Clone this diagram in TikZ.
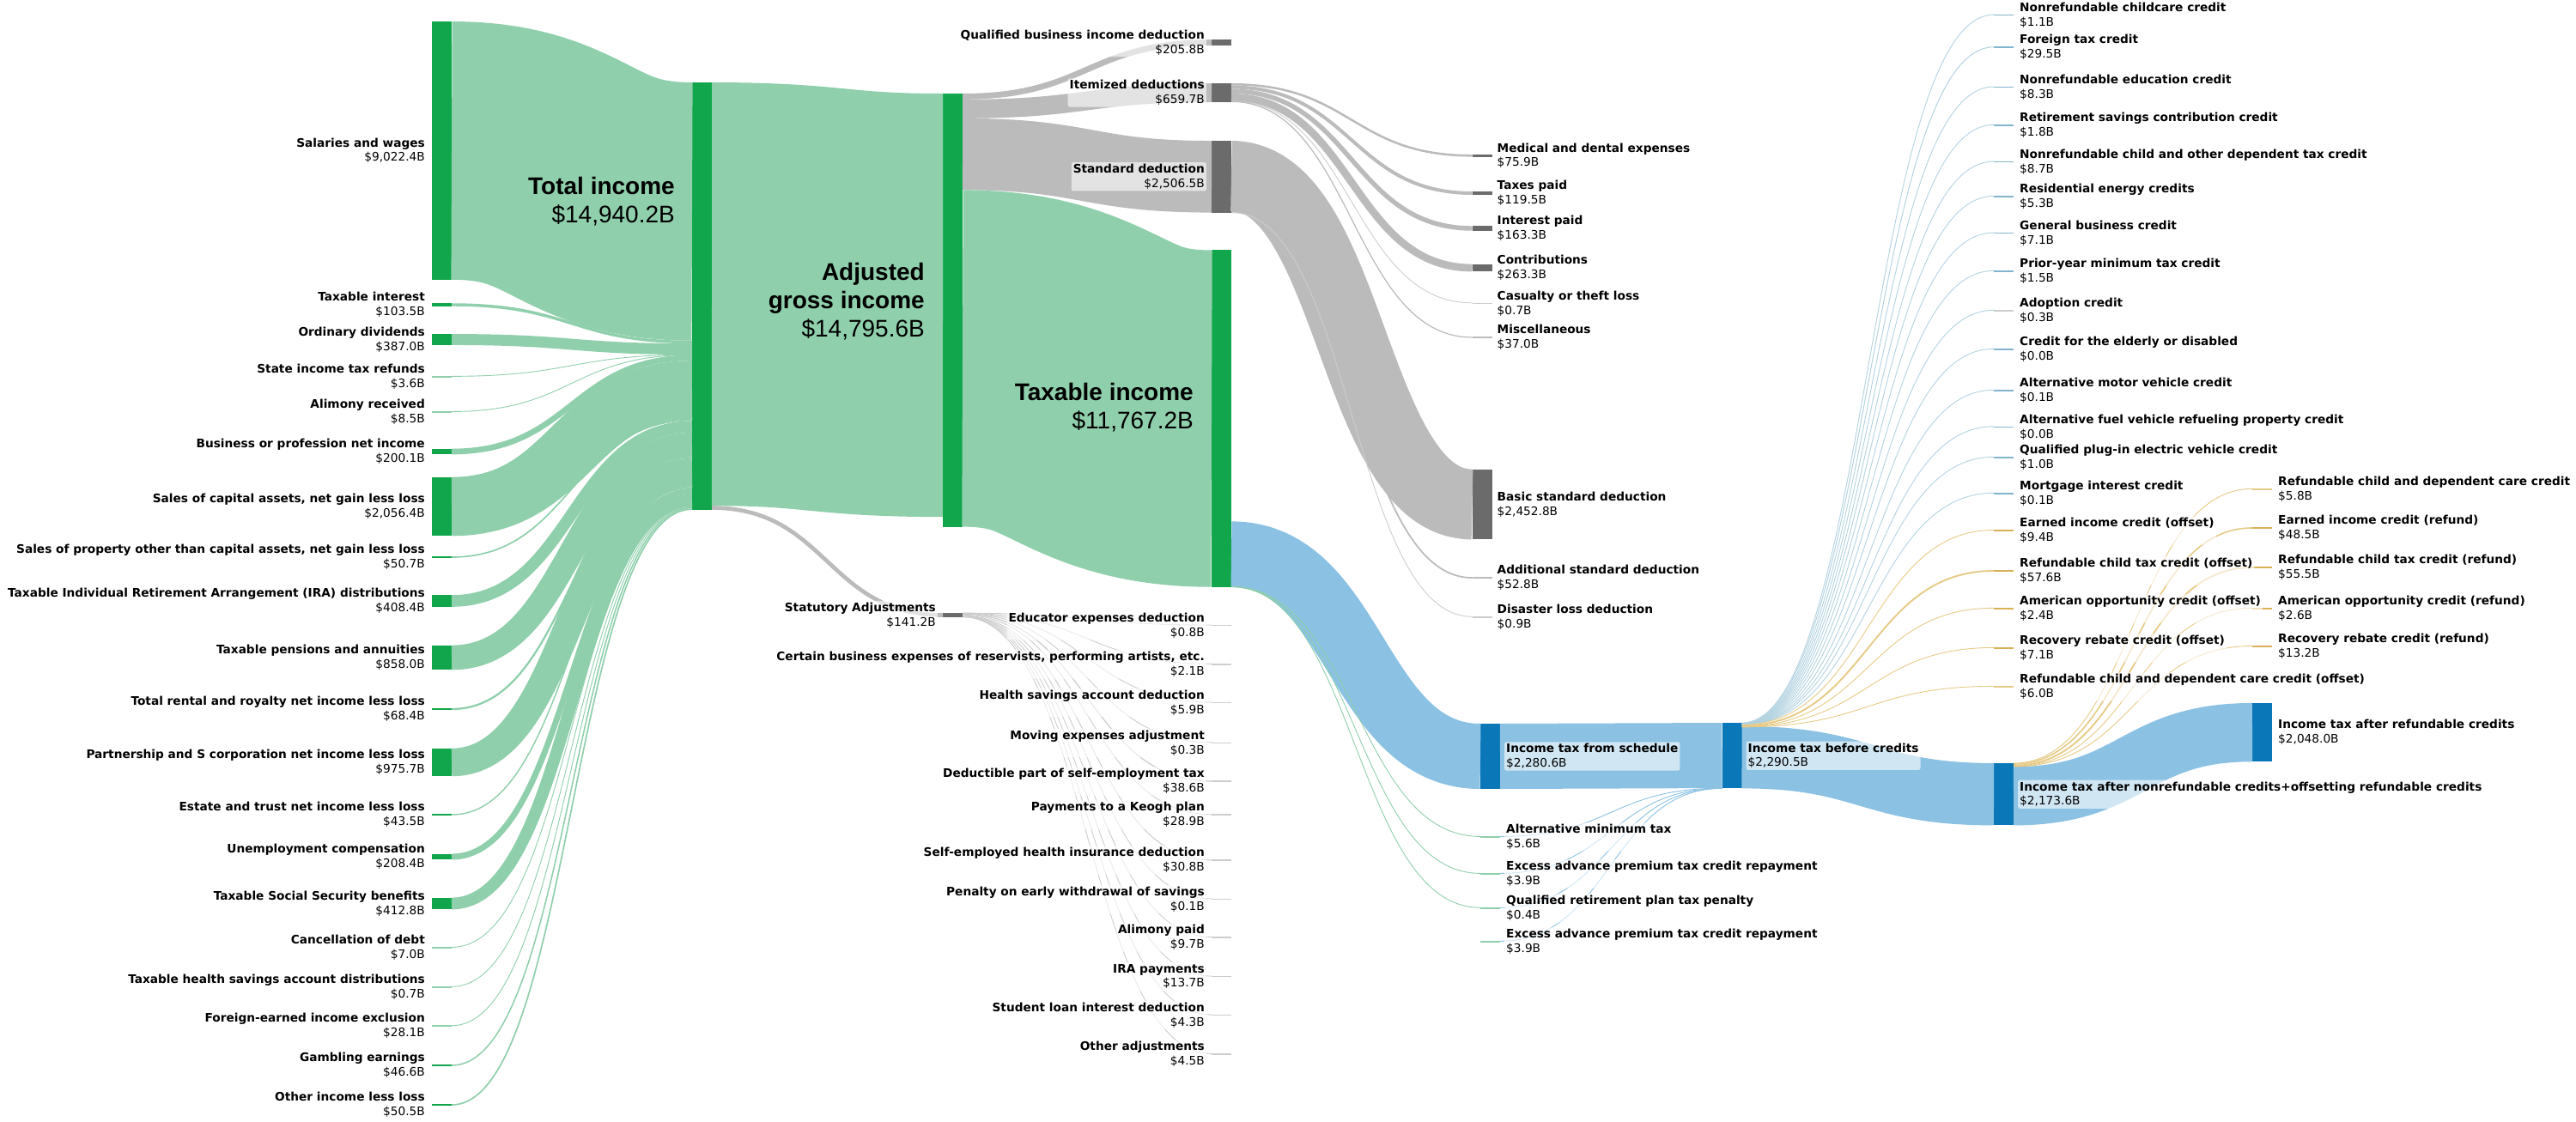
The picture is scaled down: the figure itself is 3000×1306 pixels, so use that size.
\documentclass[tikz,border=0pt]{standalone}
\usepackage{fontspec}
\usetikzlibrary{calc,positioning}
\newfontfamily\labfont{DejaVu Sans}
\newfontfamily\bigfont{Liberation Sans}
\definecolor{incbar}{RGB}{17,166,76}
\definecolor{incflow}{RGB}{143,207,172}
\definecolor{dedbar}{RGB}{107,107,107}
\definecolor{dedflow}{RGB}{187,187,187}
\definecolor{adjflow}{RGB}{205,205,205}
\definecolor{taxbar}{RGB}{10,119,184}
\definecolor{taxflow}{RGB}{139,193,226}
\definecolor{nrbar}{RGB}{130,180,205}
\definecolor{nrflow}{RGB}{178,210,224}
\definecolor{rfbar}{RGB}{216,176,88}
\definecolor{rfflow}{RGB}{230,202,135}

\newcommand\sflow[6][]{%
  \draw[#1,line width={max(#6/30,0.9)*1pt}]
    let \p1=([yshift={-(#3+#6/2)/30*1pt}]#2.north east),
        \p2=([yshift={-(#5+#6/2)/30*1pt}]#4.north west),
        \n1={(\x1+\x2)/2} in
    (\p1) .. controls (\n1,\y1) and (\n1,\y2) .. (\p2);}

\begin{document}
\begin{tikzpicture}[x=1pt,y=-1pt,
    val/.style={minimum height={max(#1/30,1.4)*1pt}},
    gflow/.style={draw=incflow},
    dflow/.style={draw=dedflow},
    aflow/.style={draw=adjflow},
    tflow/.style={draw=taxflow},
    nflow/.style={draw=nrflow},
    oflow/.style={draw=rfflow},
    lbl/.style={font={\labfont\fontsize{13.7}{16.8}\selectfont},inner sep=2pt,
      fill=white,fill opacity=0.6,text opacity=1,rounded corners=2pt},
    lbll/.style={lbl,align=right},
    lblr/.style={lbl,align=left},
    big/.style={font={\bigfont\fontsize{28}{33}\selectfont},align=right,inner sep=0pt,anchor=east}]

  \useasboundingbox (0,0) rectangle (3000,1306);

  \begin{scope}[every node/.style={rectangle,inner sep=0pt,outer sep=0pt,minimum width=23pt,fill=incbar}]
    \node[val=9022.4] (sal)   at (514.5,175.4) {};
    \node[val=103.5]  (int)   at (514.5,355)   {};
    \node[val=387.0]  (div)   at (514.5,395.5) {};
    \node[val=3.6,fill=incflow] (stref) at (514.5,439) {};
    \node[val=8.5,fill=incflow] (alim)  at (514.5,480) {};
    \node[val=200.1]  (bus)   at (514.5,526)   {};
    \node[val=2056.4] (cap)   at (514.5,590)   {};
    \node[val=50.7]   (prop)  at (514.5,649)   {};
    \node[val=408.4]  (ira)   at (514.5,700)   {};
    \node[val=858.0]  (pens)  at (514.5,766)   {};
    \node[val=68.4]   (rent)  at (514.5,826)   {};
    \node[val=975.7]  (part)  at (514.5,888)   {};
    \node[val=43.5]   (est)   at (514.5,949)   {};
    \node[val=208.4]  (unemp) at (514.5,998)   {};
    \node[val=412.8]  (ss)    at (514.5,1052.5){};
    \node[val=7.0,fill=incflow]  (debt)  at (514.5,1104) {};
    \node[val=0.7,fill=incflow]  (hsa)   at (514.5,1150) {};
    \node[val=28.1,fill=incflow] (fexcl) at (514.5,1195) {};
    \node[val=46.6]   (gamb)  at (514.5,1241)  {};
    \node[val=50.5]   (oth)   at (514.5,1287)  {};
    \node[val=14940.2] (toti) at (817.5,345)   {};
    \node[val=15139.2] (agi)  at (1109.5,361.3) {};
    \node[val=11767.2] (taxinc) at (1422.5,487.6) {};
    \node[val=5.6,fill=incflow] (amt)  at (1735.5,975)  {};
    \node[val=3.9,fill=incflow] (exc1) at (1735.5,1018) {};
    \node[val=0.4,fill=incflow] (qrp)  at (1735.5,1058) {};
    \node[val=3.9,fill=incflow] (exc2) at (1735.5,1097) {};
  \end{scope}

  \begin{scope}[every node/.style={rectangle,inner sep=0pt,outer sep=0pt,minimum width=23pt,fill=dedbar}]
    \node[val=141.2]  (stat)  at (1109.5,716.5) {};
    \node[val=205.8]  (qbi)   at (1422.5,49.5)  {};
    \node[val=659.7]  (item)  at (1422.5,108)   {};
    \node[val=2506.5] (std)   at (1422.5,205.8) {};
    \node[val=75.9]   (med)   at (1726,181.3)   {};
    \node[val=119.5]  (taxp)  at (1726,225)     {};
    \node[val=163.3]  (intp)  at (1726,266)     {};
    \node[val=263.3]  (contr) at (1726,312)     {};
    \node[val=0.7,fill=adjflow]  (cas)  at (1726,353.5) {};
    \node[val=37.0,fill=dedflow] (misc) at (1726,393)   {};
    \node[val=2452.8] (basic) at (1726,587.5)   {};
    \node[val=52.8,fill=dedflow] (addl)  at (1726,673) {};
    \node[val=0.9,fill=adjflow]  (disas) at (1726,719) {};
  \end{scope}

  \begin{scope}[every node/.style={rectangle,inner sep=0pt,outer sep=0pt,minimum width=23pt,fill=adjflow}]
    \node[val=0.8]  (educ)  at (1422.5,728.7)  {};
    \node[val=2.1]  (resv)  at (1422.5,774)    {};
    \node[val=5.9]  (hsad)  at (1422.5,818.6)  {};
    \node[val=0.3]  (move)  at (1422.5,865.5)  {};
    \node[val=38.6] (setax) at (1422.5,910)    {};
    \node[val=28.9] (keogh) at (1422.5,949)    {};
    \node[val=30.8] (sehi)  at (1422.5,1002)   {};
    \node[val=0.1]  (pen)   at (1422.5,1047.5) {};
    \node[val=9.7]  (alimp) at (1422.5,1092)   {};
    \node[val=13.7] (irap)  at (1422.5,1137.5) {};
    \node[val=4.3]  (stud)  at (1422.5,1182.6) {};
    \node[val=4.5]  (otha)  at (1422.5,1228)   {};
  \end{scope}

  \begin{scope}[every node/.style={rectangle,inner sep=0pt,outer sep=0pt,minimum width=23pt,fill=taxbar}]
    \node[val=2280.6] (sched) at (1735.5,881)   {};
    \node[val=2290.5] (befc)  at (2017,880.2)   {};
    \node[val=2173.6] (aftn)  at (2333.5,925.2) {};
    \node[val=2048.0] (aftr)  at (2634.5,853.1) {};
  \end{scope}

  \begin{scope}[every node/.style={rectangle,inner sep=0pt,outer sep=0pt,minimum width=23pt,fill=nrbar}]
    \node[val=1.1] (n1)  at (2333.5,17.8)  {};
    \node[val=29.5] (n2) at (2333.5,55)    {};
    \node[val=8.3] (n3)  at (2333.5,101.6) {};
    \node[val=1.8] (n4)  at (2333.5,146)   {};
    \node[val=8.7] (n5)  at (2333.5,188.6) {};
    \node[val=5.3] (n6)  at (2333.5,229)   {};
    \node[val=7.1] (n7)  at (2333.5,271.6) {};
    \node[val=1.5] (n8)  at (2333.5,316)   {};
    \node[val=0.3,fill=adjflow] (n9) at (2333.5,362) {};
    \node[val=0.0] (n10) at (2333.5,407)   {};
    \node[val=0.1] (n11) at (2333.5,455)   {};
    \node[val=0.0] (n12) at (2333.5,497.5) {};
    \node[val=1.0] (n13) at (2333.5,533)   {};
    \node[val=0.1] (n14) at (2333.5,575)   {};
  \end{scope}

  \begin{scope}[every node/.style={rectangle,inner sep=0pt,outer sep=0pt,minimum width=23pt,fill=rfbar}]
    \node[val=9.4]  (o1) at (2333.5,618) {};
    \node[val=57.6] (o2) at (2333.5,665) {};
    \node[val=2.4]  (o3) at (2333.5,709) {};
    \node[val=7.1]  (o4) at (2333.5,755) {};
    \node[val=6.0,fill=rfflow] (o5) at (2333.5,800) {};
    \node[val=5.8,fill=rfflow] (r1) at (2634.5,570) {};
    \node[val=48.5] (r2) at (2634.5,615) {};
    \node[val=55.5] (r3) at (2634.5,661) {};
    \node[val=2.6]  (r4) at (2634.5,709) {};
    \node[val=13.2] (r5) at (2634.5,753) {};
  \end{scope}

  \sflow[gflow]{sal}{0}{toti}{0}{9022.4}
  \sflow[gflow]{int}{0}{toti}{9022.4}{103.5}
  \sflow[gflow]{div}{0}{toti}{9125.9}{387.0}
  \sflow[gflow]{stref}{0}{toti}{9512.9}{3.6}
  \sflow[gflow]{alim}{0}{toti}{9516.5}{8.5}
  \sflow[gflow]{bus}{0}{toti}{9525.0}{200.1}
  \sflow[gflow]{cap}{0}{toti}{9725.1}{2056.4}
  \sflow[gflow]{prop}{0}{toti}{11781.5}{50.7}
  \sflow[gflow]{ira}{0}{toti}{11832.2}{408.4}
  \sflow[gflow]{pens}{0}{toti}{12240.6}{858.0}
  \sflow[gflow]{rent}{0}{toti}{13098.6}{68.4}
  \sflow[gflow]{part}{0}{toti}{13167.0}{975.7}
  \sflow[gflow]{est}{0}{toti}{14142.7}{43.5}
  \sflow[gflow]{unemp}{0}{toti}{14186.2}{208.4}
  \sflow[gflow]{ss}{0}{toti}{14394.6}{412.8}
  \sflow[gflow]{debt}{0}{toti}{14807.4}{7.0}
  \sflow[gflow]{hsa}{0}{toti}{14814.4}{0.7}
  \sflow[gflow]{fexcl}{0}{toti}{14815.1}{28.1}
  \sflow[gflow]{gamb}{0}{toti}{14843.2}{46.6}
  \sflow[gflow]{oth}{0}{toti}{14889.8}{50.5}

  \sflow[gflow]{toti}{0}{agi}{0}{14795.6}
  \sflow[dflow]{toti}{14795.6}{stat}{0}{141.2}

  \sflow[dflow]{agi}{0}{qbi}{0}{205.8}
  \sflow[dflow]{agi}{205.8}{item}{0}{659.7}
  \sflow[dflow]{agi}{865.5}{std}{0}{2506.5}
  \sflow[gflow]{agi}{3372.0}{taxinc}{0}{11767.2}

  \sflow[aflow]{stat}{0}{educ}{0}{0.8}
  \sflow[aflow]{stat}{0.8}{resv}{0}{2.1}
  \sflow[aflow]{stat}{2.9}{hsad}{0}{5.9}
  \sflow[aflow]{stat}{8.8}{move}{0}{0.3}
  \sflow[aflow]{stat}{9.1}{setax}{0}{38.6}
  \sflow[aflow]{stat}{47.7}{keogh}{0}{28.9}
  \sflow[aflow]{stat}{76.6}{sehi}{0}{30.8}
  \sflow[aflow]{stat}{107.4}{pen}{0}{0.1}
  \sflow[aflow]{stat}{107.5}{alimp}{0}{9.7}
  \sflow[aflow]{stat}{117.2}{irap}{0}{13.7}
  \sflow[aflow]{stat}{130.9}{stud}{0}{4.3}
  \sflow[aflow]{stat}{135.2}{otha}{0}{4.5}

  \sflow[dflow]{item}{0}{med}{0}{75.9}
  \sflow[dflow]{item}{75.9}{taxp}{0}{119.5}
  \sflow[dflow]{item}{195.4}{intp}{0}{163.3}
  \sflow[dflow]{item}{358.7}{contr}{0}{263.3}
  \sflow[aflow]{item}{622.0}{cas}{0}{0.7}
  \sflow[dflow]{item}{622.7}{misc}{0}{37.0}
  \sflow[dflow]{std}{0}{basic}{0}{2452.8}
  \sflow[dflow]{std}{2452.8}{addl}{0}{52.8}
  \sflow[aflow]{std}{2505.6}{disas}{0}{0.9}

  \sflow[tflow]{taxinc}{9476.7}{sched}{0}{2280.6}
  \sflow[gflow]{taxinc}{11757.3}{amt}{0}{5.6}
  \sflow[gflow]{taxinc}{11762.9}{exc1}{0}{3.9}
  \sflow[gflow]{taxinc}{11766.8}{qrp}{0}{0.4}

  \sflow[tflow]{sched}{0}{befc}{0}{2280.6}
  \sflow[tflow]{amt}{0}{befc}{2280.6}{5.6}
  \sflow[tflow]{exc1}{0}{befc}{2286.2}{3.9}
  \sflow[tflow]{qrp}{0}{befc}{2290.1}{0.4}
  \sflow[tflow]{exc2}{0}{befc}{2286.6}{3.9}

  \sflow[tflow]{befc}{116.9}{aftn}{0}{2173.6}
  \sflow[nflow]{befc}{0}{n1}{0}{1.1}
  \sflow[nflow]{befc}{1.1}{n2}{0}{29.5}
  \sflow[nflow]{befc}{30.6}{n3}{0}{8.3}
  \sflow[nflow]{befc}{38.9}{n4}{0}{1.8}
  \sflow[nflow]{befc}{40.7}{n5}{0}{8.7}
  \sflow[nflow]{befc}{49.4}{n6}{0}{5.3}
  \sflow[nflow]{befc}{54.7}{n7}{0}{7.1}
  \sflow[nflow]{befc}{61.8}{n8}{0}{1.5}
  \sflow[nflow]{befc}{63.3}{n9}{0}{0.3}
  \sflow[nflow]{befc}{63.6}{n10}{0}{0.0}
  \sflow[nflow]{befc}{63.6}{n11}{0}{0.1}
  \sflow[nflow]{befc}{63.7}{n12}{0}{0.0}
  \sflow[nflow]{befc}{63.7}{n13}{0}{1.0}
  \sflow[nflow]{befc}{64.7}{n14}{0}{0.1}
  \sflow[oflow]{befc}{64.8}{o1}{0}{9.4}
  \sflow[oflow]{befc}{74.2}{o2}{0}{57.6}
  \sflow[oflow]{befc}{131.8}{o3}{0}{2.4}
  \sflow[oflow]{befc}{134.2}{o4}{0}{7.1}
  \sflow[oflow]{befc}{141.3}{o5}{0}{6.0}

  \sflow[tflow]{aftn}{125.6}{aftr}{0}{2048.0}
  \sflow[oflow]{aftn}{0}{r1}{0}{5.8}
  \sflow[oflow]{aftn}{5.8}{r2}{0}{48.5}
  \sflow[oflow]{aftn}{54.3}{r3}{0}{55.5}
  \sflow[oflow]{aftn}{109.8}{r4}{0}{2.6}
  \sflow[oflow]{aftn}{112.4}{r5}{0}{13.2}

  \node[lbll,left=6pt of sal]   (sal-l)   {\textbf{Salaries and wages}\\\$9,022.4B};
  \node[lbll,left=6pt of int]   (int-l)   {\textbf{Taxable interest}\\\$103.5B};
  \node[lbll,left=6pt of div]   (div-l)   {\textbf{Ordinary dividends}\\\$387.0B};
  \node[lbll,left=6pt of stref] (stref-l) {\textbf{State income tax refunds}\\\$3.6B};
  \node[lbll,left=6pt of alim]  (alim-l)  {\textbf{Alimony received}\\\$8.5B};
  \node[lbll,left=6pt of bus]   (bus-l)   {\textbf{Business or profession net income}\\\$200.1B};
  \node[lbll,left=6pt of cap]   (cap-l)   {\textbf{Sales of capital assets, net gain less loss}\\\$2,056.4B};
  \node[lbll,left=6pt of prop]  (prop-l)  {\textbf{Sales of property other than capital assets, net gain less loss}\\\$50.7B};
  \node[lbll,left=6pt of ira]   (ira-l)   {\textbf{Taxable Individual Retirement Arrangement (IRA) distributions}\\\$408.4B};
  \node[lbll,left=6pt of pens]  (pens-l)  {\textbf{Taxable pensions and annuities}\\\$858.0B};
  \node[lbll,left=6pt of rent]  (rent-l)  {\textbf{Total rental and royalty net income less loss}\\\$68.4B};
  \node[lbll,left=6pt of part]  (part-l)  {\textbf{Partnership and S corporation net income less loss}\\\$975.7B};
  \node[lbll,left=6pt of est]   (est-l)   {\textbf{Estate and trust net income less loss}\\\$43.5B};
  \node[lbll,left=6pt of unemp] (unemp-l) {\textbf{Unemployment compensation}\\\$208.4B};
  \node[lbll,left=6pt of ss]    (ss-l)    {\textbf{Taxable Social Security benefits}\\\$412.8B};
  \node[lbll,left=6pt of debt]  (debt-l)  {\textbf{Cancellation of debt}\\\$7.0B};
  \node[lbll,left=6pt of hsa]   (hsa-l)   {\textbf{Taxable health savings account distributions}\\\$0.7B};
  \node[lbll,left=6pt of fexcl] (fexcl-l) {\textbf{Foreign-earned income exclusion}\\\$28.1B};
  \node[lbll,left=6pt of gamb]  (gamb-l)  {\textbf{Gambling earnings}\\\$46.6B};
  \node[lbll,left=6pt of oth]   (oth-l)   {\textbf{Other income less loss}\\\$50.5B};

  \node[big] (toti-l)   at (786,234.5) {\textbf{Total income}\\\$14,940.2B};
  \node[big] (agi-l)    at (1077,351)  {\textbf{Adjusted}\\\textbf{gross income}\\\$14,795.6B};
  \node[big] (taxinc-l) at (1390,474.5) {\textbf{Taxable income}\\\$11,767.2B};

  \node[lbll,left=6pt of stat]  (stat-l)  {\textbf{Statutory Adjustments}\\\$141.2B};
  \node[lbll,left=6pt of qbi]   (qbi-l)   {\textbf{Qualified business income deduction}\\\$205.8B};
  \node[lbll,left=6pt of item]  (item-l)  {\textbf{Itemized deductions}\\\$659.7B};
  \node[lbll,left=6pt of std]   (std-l)   {\textbf{Standard deduction}\\\$2,506.5B};

  \node[lbll,left=6pt of educ]  (educ-l)  {\textbf{Educator expenses deduction}\\\$0.8B};
  \node[lbll,left=6pt of resv]  (resv-l)  {\textbf{Certain business expenses of reservists, performing artists, etc.}\\\$2.1B};
  \node[lbll,left=6pt of hsad]  (hsad-l)  {\textbf{Health savings account deduction}\\\$5.9B};
  \node[lbll,left=6pt of move]  (move-l)  {\textbf{Moving expenses adjustment}\\\$0.3B};
  \node[lbll,left=6pt of setax] (setax-l) {\textbf{Deductible part of self-employment tax}\\\$38.6B};
  \node[lbll,left=6pt of keogh] (keogh-l) {\textbf{Payments to a Keogh plan}\\\$28.9B};
  \node[lbll,left=6pt of sehi]  (sehi-l)  {\textbf{Self-employed health insurance deduction}\\\$30.8B};
  \node[lbll,left=6pt of pen]   (pen-l)   {\textbf{Penalty on early withdrawal of savings}\\\$0.1B};
  \node[lbll,left=6pt of alimp] (alimp-l) {\textbf{Alimony paid}\\\$9.7B};
  \node[lbll,left=6pt of irap]  (irap-l)  {\textbf{IRA payments}\\\$13.7B};
  \node[lbll,left=6pt of stud]  (stud-l)  {\textbf{Student loan interest deduction}\\\$4.3B};
  \node[lbll,left=6pt of otha]  (otha-l)  {\textbf{Other adjustments}\\\$4.5B};

  \node[lblr,right=4pt of med]   (med-l)   {\textbf{Medical and dental expenses}\\\$75.9B};
  \node[lblr,right=4pt of taxp]  (taxp-l)  {\textbf{Taxes paid}\\\$119.5B};
  \node[lblr,right=4pt of intp]  (intp-l)  {\textbf{Interest paid}\\\$163.3B};
  \node[lblr,right=4pt of contr] (contr-l) {\textbf{Contributions}\\\$263.3B};
  \node[lblr,right=4pt of cas]   (cas-l)   {\textbf{Casualty or theft loss}\\\$0.7B};
  \node[lblr,right=4pt of misc]  (misc-l)  {\textbf{Miscellaneous}\\\$37.0B};
  \node[lblr,right=4pt of basic] (basic-l) {\textbf{Basic standard deduction}\\\$2,452.8B};
  \node[lblr,right=4pt of addl]  (addl-l)  {\textbf{Additional standard deduction}\\\$52.8B};
  \node[lblr,right=4pt of disas] (disas-l) {\textbf{Disaster loss deduction}\\\$0.9B};

  \node[lblr,right=5pt of sched] (sched-l) {\textbf{Income tax from schedule}\\\$2,280.6B};
  \node[lblr,right=5pt of amt]   (amt-l)   {\textbf{Alternative minimum tax}\\\$5.6B};
  \node[lblr,right=5pt of exc1]  (exc1-l)  {\textbf{Excess advance premium tax credit repayment}\\\$3.9B};
  \node[lblr,right=5pt of qrp]   (qrp-l)   {\textbf{Qualified retirement plan tax penalty}\\\$0.4B};
  \node[lblr,right=5pt of exc2]  (exc2-l)  {\textbf{Excess advance premium tax credit repayment}\\\$3.9B};
  \node[lblr,right=5pt of befc]  (befc-l)  {\textbf{Income tax before credits}\\\$2,290.5B};

  \node[lblr,right=5pt of n1]  (n1-l)  {\textbf{Nonrefundable childcare credit}\\\$1.1B};
  \node[lblr,right=5pt of n2]  (n2-l)  {\textbf{Foreign tax credit}\\\$29.5B};
  \node[lblr,right=5pt of n3]  (n3-l)  {\textbf{Nonrefundable education credit}\\\$8.3B};
  \node[lblr,right=5pt of n4]  (n4-l)  {\textbf{Retirement savings contribution credit}\\\$1.8B};
  \node[lblr,right=5pt of n5]  (n5-l)  {\textbf{Nonrefundable child and other dependent tax credit}\\\$8.7B};
  \node[lblr,right=5pt of n6]  (n6-l)  {\textbf{Residential energy credits}\\\$5.3B};
  \node[lblr,right=5pt of n7]  (n7-l)  {\textbf{General business credit}\\\$7.1B};
  \node[lblr,right=5pt of n8]  (n8-l)  {\textbf{Prior-year minimum tax credit}\\\$1.5B};
  \node[lblr,right=5pt of n9]  (n9-l)  {\textbf{Adoption credit}\\\$0.3B};
  \node[lblr,right=5pt of n10] (n10-l) {\textbf{Credit for the elderly or disabled}\\\$0.0B};
  \node[lblr,right=5pt of n11] (n11-l) {\textbf{Alternative motor vehicle credit}\\\$0.1B};
  \node[lblr,right=5pt of n12] (n12-l) {\textbf{Alternative fuel vehicle refueling property credit}\\\$0.0B};
  \node[lblr,right=5pt of n13] (n13-l) {\textbf{Qualified plug-in electric vehicle credit}\\\$1.0B};
  \node[lblr,right=5pt of n14] (n14-l) {\textbf{Mortgage interest credit}\\\$0.1B};
  \node[lblr,right=5pt of o1]  (o1-l)  {\textbf{Earned income credit (offset)}\\\$9.4B};
  \node[lblr,right=5pt of o2]  (o2-l)  {\textbf{Refundable child tax credit (offset)}\\\$57.6B};
  \node[lblr,right=5pt of o3]  (o3-l)  {\textbf{American opportunity credit (offset)}\\\$2.4B};
  \node[lblr,right=5pt of o4]  (o4-l)  {\textbf{Recovery rebate credit (offset)}\\\$7.1B};
  \node[lblr,right=5pt of o5]  (o5-l)  {\textbf{Refundable child and dependent care credit (offset)}\\\$6.0B};
  \node[lblr,right=5pt of aftn] (aftn-l) {\textbf{Income tax after nonrefundable credits+offsetting refundable credits}\\\$2,173.6B};

  \node[lblr,right=5pt of r1] (r1-l) {\textbf{Refundable child and dependent care credit}\\\$5.8B};
  \node[lblr,right=5pt of r2] (r2-l) {\textbf{Earned income credit (refund)}\\\$48.5B};
  \node[lblr,right=5pt of r3] (r3-l) {\textbf{Refundable child tax credit (refund)}\\\$55.5B};
  \node[lblr,right=5pt of r4] (r4-l) {\textbf{American opportunity credit (refund)}\\\$2.6B};
  \node[lblr,right=5pt of r5] (r5-l) {\textbf{Recovery rebate credit (refund)}\\\$13.2B};
  \node[lblr,right=5pt of aftr] (aftr-l) {\textbf{Income tax after refundable credits}\\\$2,048.0B};

\end{tikzpicture}
\end{document}
